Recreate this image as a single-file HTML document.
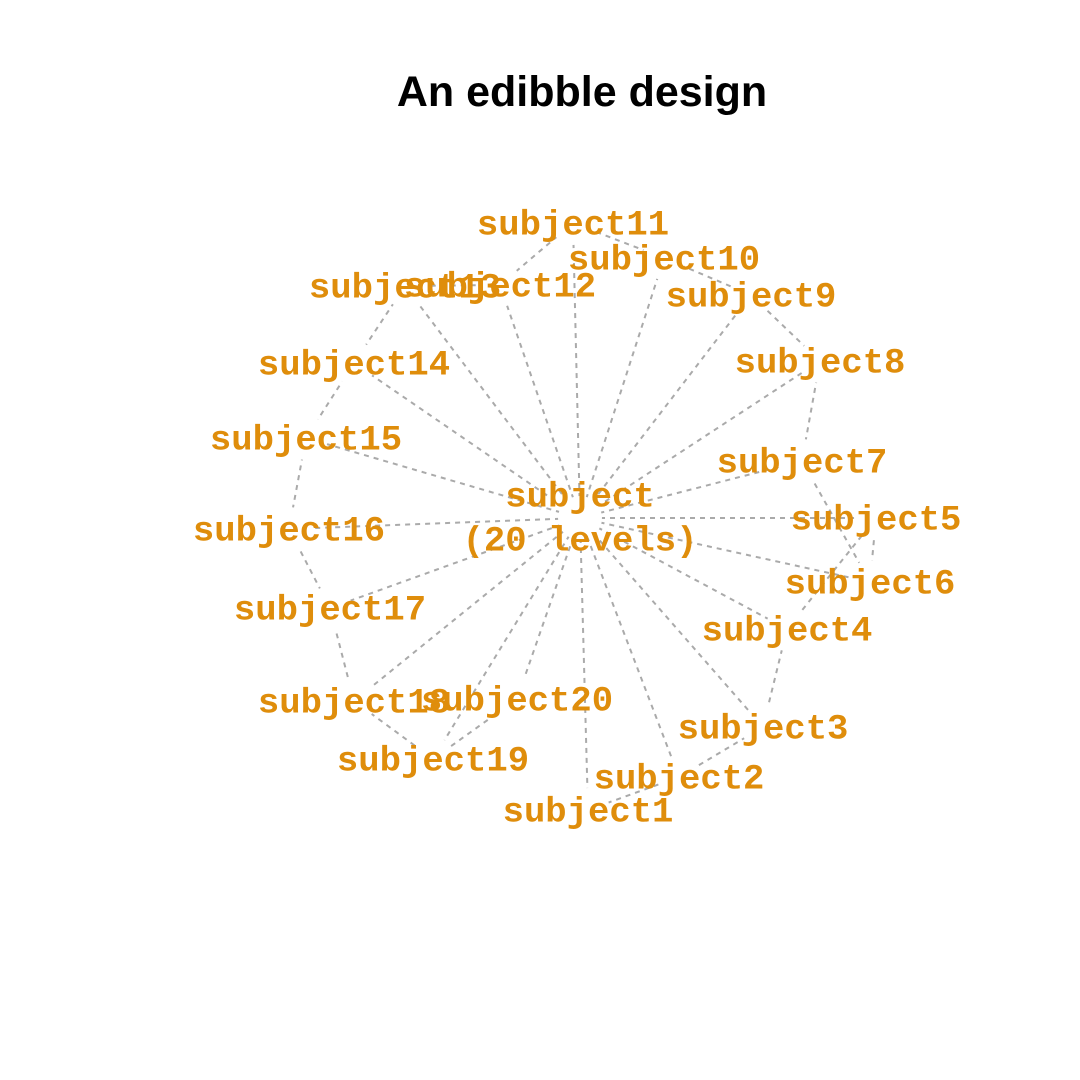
<!DOCTYPE html>
<html><head><meta charset="utf-8"><style>
html,body{margin:0;padding:0;background:#fff;}
svg{display:block;}
.l text{font-family:"Liberation Mono",monospace;font-weight:bold;font-size:35.6px;fill:#DF8D0B;text-anchor:middle;dominant-baseline:central;}
</style></head><body>
<svg width="1080" height="1080" viewBox="0 0 1080 1080">
<defs>
<mask id="m">
<rect width="1080" height="1080" fill="#fff"/>
<g fill="#000">
<circle cx="580" cy="518" r="22"/>
<circle cx="588" cy="810" r="22"/><circle cx="679" cy="777" r="22"/><circle cx="763" cy="727" r="22"/><circle cx="787" cy="629" r="22"/><circle cx="876" cy="518" r="22"/><circle cx="870" cy="582" r="22"/><circle cx="802" cy="461" r="22"/><circle cx="820" cy="361" r="22"/><circle cx="751" cy="295" r="22"/><circle cx="664" cy="258" r="22"/><circle cx="573" cy="223" r="22"/><circle cx="500" cy="285" r="22"/><circle cx="405" cy="286" r="22"/><circle cx="354" cy="363" r="22"/><circle cx="306" cy="438" r="22"/><circle cx="289" cy="529" r="22"/><circle cx="330" cy="608" r="22"/><circle cx="354" cy="701" r="22"/><circle cx="433" cy="759" r="22"/><circle cx="517" cy="699" r="22"/>
</g>
</mask>
</defs>
<text x="582" y="106" font-family="Liberation Sans, sans-serif" font-weight="bold" font-size="43" text-anchor="middle">An edibble design</text>
<g stroke="#aaa" stroke-width="2" stroke-dasharray="5,5" fill="none" mask="url(#m)">
<line x1="580" y1="518" x2="588" y2="810"/>
<line x1="580" y1="518" x2="679" y2="777"/>
<line x1="580" y1="518" x2="763" y2="727"/>
<line x1="580" y1="518" x2="787" y2="629"/>
<line x1="580" y1="518" x2="876" y2="518"/>
<line x1="580" y1="518" x2="870" y2="582"/>
<line x1="580" y1="518" x2="802" y2="461"/>
<line x1="580" y1="518" x2="820" y2="361"/>
<line x1="580" y1="518" x2="751" y2="295"/>
<line x1="580" y1="518" x2="664" y2="258"/>
<line x1="580" y1="518" x2="573" y2="223"/>
<line x1="580" y1="518" x2="500" y2="285"/>
<line x1="580" y1="518" x2="405" y2="286"/>
<line x1="580" y1="518" x2="354" y2="363"/>
<line x1="580" y1="518" x2="306" y2="438"/>
<line x1="580" y1="518" x2="289" y2="529"/>
<line x1="580" y1="518" x2="330" y2="608"/>
<line x1="580" y1="518" x2="354" y2="701"/>
<line x1="580" y1="518" x2="433" y2="759"/>
<line x1="580" y1="518" x2="517" y2="699"/>
<polyline points="588,810 679,777 763,727 787,629 876,518 870,582 802,461 820,361 751,295 664,258 573,223 500,285 405,286 354,363 306,438 289,529 330,608 354,701 433,759 517,699"/>
</g>
<g class="l">
<text x="580" y="497">subject</text>
<text x="580" y="541">(20 levels)</text>
<text x="588" y="812">subject1</text>
<text x="679" y="779">subject2</text>
<text x="763" y="729">subject3</text>
<text x="787" y="631">subject4</text>
<text x="876" y="520">subject5</text>
<text x="870" y="584">subject6</text>
<text x="802" y="463">subject7</text>
<text x="820" y="363">subject8</text>
<text x="751" y="297">subject9</text>
<text x="664" y="260">subject10</text>
<text x="573" y="225">subject11</text>
<text x="500" y="287">subject12</text>
<text x="405" y="288">subject13</text>
<text x="354" y="365">subject14</text>
<text x="306" y="440">subject15</text>
<text x="289" y="531">subject16</text>
<text x="330" y="610">subject17</text>
<text x="354" y="703">subject18</text>
<text x="433" y="761">subject19</text>
<text x="517" y="701">subject20</text>
</g>
</svg>
</body></html>
